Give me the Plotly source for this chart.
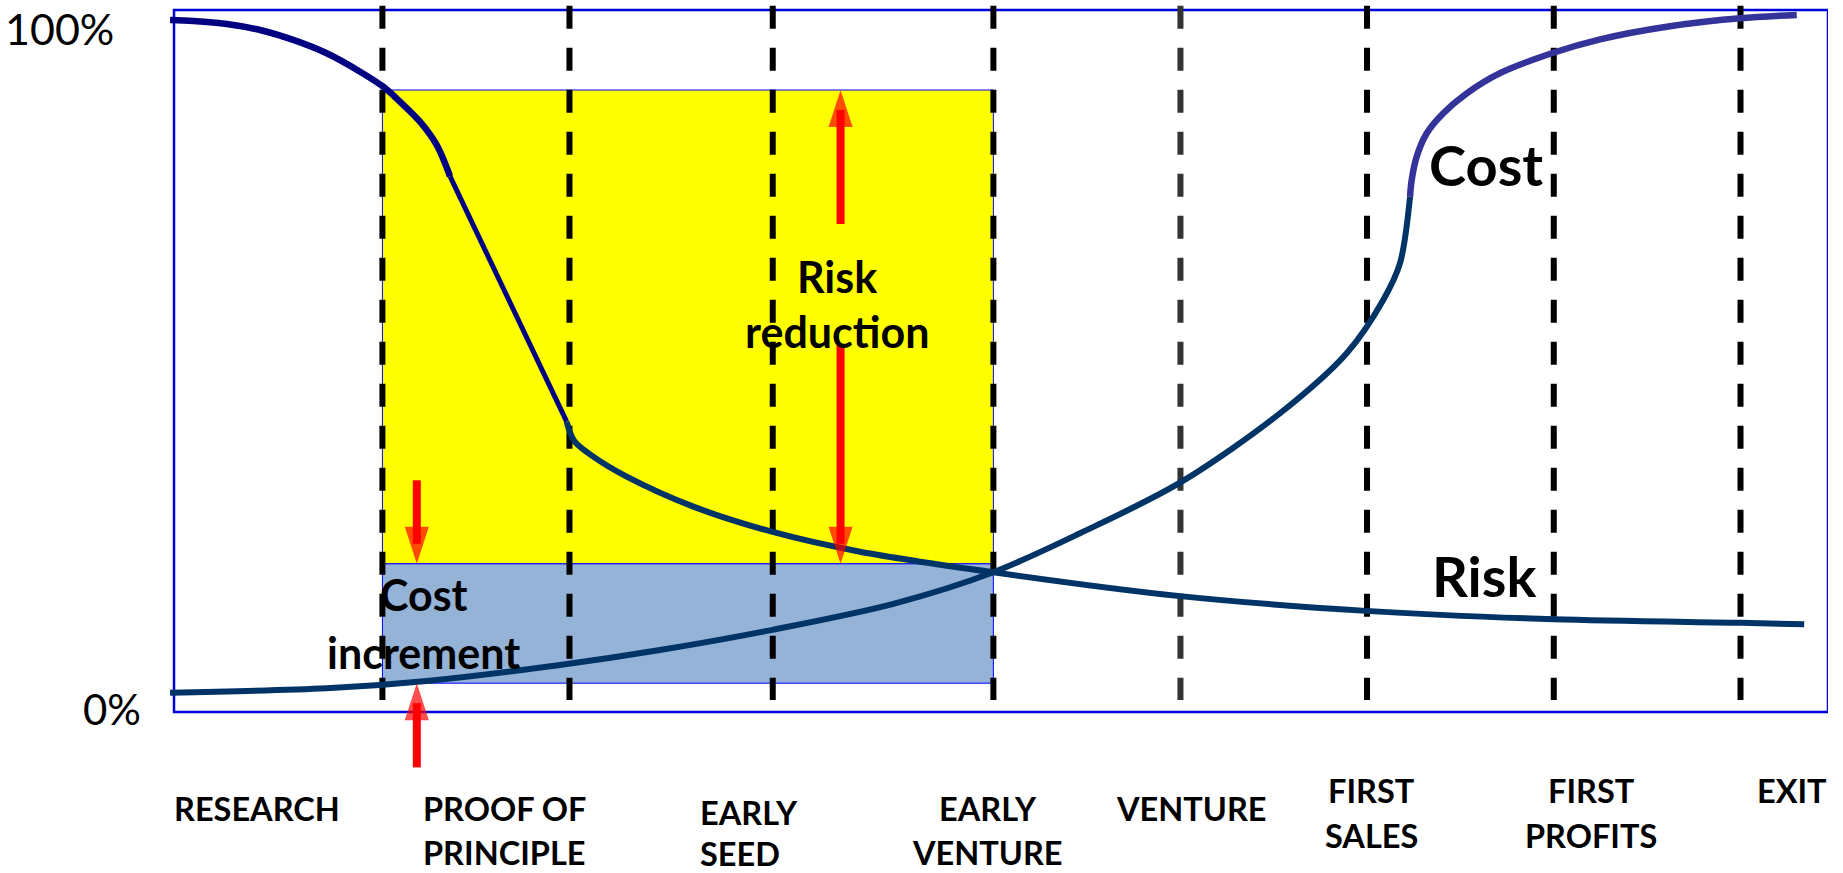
import plotly.graph_objects as go

# ---------------- data (x: % of venture timeline, y: % level) ----------------
stage_bounds = [12.60, 23.91, 36.20, 49.54, 60.85, 72.13, 83.42, 94.71]
stage_lines1 = ["RESEARCH", "PROOF OF", "EARLY", "EARLY", "VENTURE", "FIRST", "FIRST", "EXIT"]
stage_lines2 = ["", "PRINCIPLE", "SEED", "VENTURE", "", "SALES", "PROFITS", ""]

risk_head_x = [-0.24, 1.17, 3.19, 5.20, 7.21, 9.23, 11.25, 12.65, 13.66, 14.87, 15.88, 16.69]
risk_head_y = [98.58, 98.43, 98.01, 97.15, 95.73, 93.83, 91.21, 89.07, 86.94, 84.09, 80.77, 76.3]
risk_drop_x = [16.69, 23.74]
risk_drop_y = [76.3, 41.35]
risk_tail_x = [23.74, 24.2, 25.35, 27.37, 31.40, 36.14, 41.48, 49.53, 60.83, 72.06, 83.43,
               94.73, 98.56]
risk_tail_y = [41.35, 38.6, 36.37, 33.52, 29.25, 25.68, 22.83, 19.9, 16.5, 14.4, 13.2,
               12.7, 12.5]

cost_low_x = [-0.24, 9.23, 15.28, 23.34, 29.38, 36.17, 43.49, 49.53, 54.78, 60.82, 66.87,
              70.90, 73.11, 74.12, 74.73]
cost_low_y = [2.75, 3.37, 4.42, 6.70, 8.83, 11.7, 15.4, 19.9, 25.46, 32.66, 42.55,
              51.10, 58.69, 63.9, 73.4]
cost_high_x = [74.73, 74.83, 75.13, 75.74, 76.74, 78.16, 80.17, 83.39, 86.22, 90.25,
               94.68, 98.11]
cost_high_y = [73.4, 75.78, 79.10, 82.44, 85.29, 88.13, 91.0, 93.9, 95.82, 97.62,
               98.82, 99.29]

risk_band = [21.1, 88.6]   # yellow: risk reduction
cost_band = [4.1, 21.1]    # blue: cost increment

risk_arrow_tails = [69.5, 52.4]
cost_arrow_tails = [33.0, -7.9]

# ---------------- layout helpers (positions / styles) ----------------
FONT = "Lato, 'Open Sans', Arial, sans-serif"
band_x0, band_x1 = stage_bounds[0], stage_bounds[3]
risk_arrow_x = 40.3
cost_arrow_x = 14.68
label_x = [5.02, 20.01, 31.71, 49.21, 61.49, 72.43, 85.70, 97.82]
label_anchor = ["center", "center", "left", "center", "center", "center", "center", "center"]
label_y1 = [-13.75, -13.75, -14.25, -13.75, -13.75, -11.25, -11.25, -11.25]
label_gap = [6.35, 6.3, 5.85, 6.3, 6.35, 6.4, 6.4, 6.4]
dash_colors = ["#000000", "#000000", "#000000", "#000000", "#333333", "#000000", "#000000", "#000000"]

fig = go.Figure()

# bands
fig.add_trace(go.Scatter(
    x=[band_x0, band_x1, band_x1, band_x0, band_x0],
    y=[risk_band[0], risk_band[0], risk_band[1], risk_band[1], risk_band[0]],
    fill="toself", fillcolor="#FFFF00", mode="lines",
    line=dict(color="#0000FF", width=1), hoverinfo="skip", showlegend=False))
fig.add_trace(go.Scatter(
    x=[band_x0, band_x1, band_x1, band_x0, band_x0],
    y=[cost_band[0], cost_band[0], cost_band[1], cost_band[1], cost_band[0]],
    fill="toself", fillcolor="#95B3D7", mode="lines",
    line=dict(color="#0000FF", width=1), hoverinfo="skip", showlegend=False))

# dashed stage boundaries
for bx, col in zip(stage_bounds, dash_colors):
    fig.add_trace(go.Scatter(
        x=[bx, bx], y=[100.6, 1.7], mode="lines",
        line=dict(color=col, width=6, dash="23px,19px"),
        hoverinfo="skip", showlegend=False))

# risk curve
fig.add_trace(go.Scatter(x=risk_head_x, y=risk_head_y, mode="lines",
                         line=dict(color="#000080", width=6.5, shape="spline", smoothing=0.9),
                         showlegend=False))
fig.add_trace(go.Scatter(x=risk_drop_x, y=risk_drop_y, mode="lines",
                         line=dict(color="#000080", width=5),
                         showlegend=False))
fig.add_trace(go.Scatter(x=risk_tail_x, y=risk_tail_y, mode="lines",
                         line=dict(color="#003366", width=6, shape="spline", smoothing=0.9),
                         showlegend=False))

# cost curve
fig.add_trace(go.Scatter(x=cost_low_x, y=cost_low_y, mode="lines",
                         line=dict(color="#003366", width=6, shape="spline", smoothing=0.9),
                         showlegend=False))
fig.add_trace(go.Scatter(x=cost_high_x, y=cost_high_y, mode="lines",
                         line=dict(color="#333399", width=6.5, shape="spline", smoothing=0.9),
                         showlegend=False))

# red arrows
def arrow(x, tail, tip):
    fig.add_trace(go.Scatter(
        x=[x, x], y=[tail, tip], mode="lines+markers",
        line=dict(color="#FF0000", width=8, backoff=20),
        marker=dict(symbol=["circle", "arrow"], size=[0, 39], color="#FF0000",
                    angleref="previous", line=dict(width=0)),
        cliponaxis=False, hoverinfo="skip", showlegend=False))

arrow(risk_arrow_x, risk_arrow_tails[0], risk_band[1])
arrow(risk_arrow_x, risk_arrow_tails[1], risk_band[0])
arrow(cost_arrow_x, cost_arrow_tails[0], cost_band[1])
arrow(cost_arrow_x, cost_arrow_tails[1], cost_band[0])

ann = []
def txt(x, y, s, size, xanchor="center", bold=True, xref="x"):
    ann.append(dict(x=x, y=y, xref=xref, yref="y", text=("<b>%s</b>" % s) if bold else s,
                    showarrow=False, xanchor=xanchor, yanchor="middle",
                    font=dict(family=FONT, size=size, color="#000000")))

# stage labels
for i in range(len(stage_lines1)):
    txt(label_x[i], label_y1[i], stage_lines1[i], 32.5, label_anchor[i])
    if stage_lines2[i]:
        txt(label_x[i], label_y1[i] - label_gap[i], stage_lines2[i], 32.5, label_anchor[i])

# in-chart labels
txt(79.3, 78.0, "Cost", 56)
txt(79.2, 19.4, "Risk", 56)
txt(40.1, 62.0, "Risk", 43)
txt(40.1, 54.2, "reduction", 43)
txt(15.13, 16.7, "Cost", 43)
txt(15.08, 8.5, "increment", 43)

# percent labels
txt(-0.0290, 97.4, "100%", 43, "right", bold=False, xref="paper")
txt(-0.0124, 0.43, "0%", 42, "right", bold=False, xref="paper")

fig.update_layout(
    width=1843, height=873,
    margin=dict(l=164, r=15, t=0, b=0),
    paper_bgcolor="#FFFFFF", plot_bgcolor="#FFFFFF",
    xaxis=dict(range=[-0.605, 100], visible=False, fixedrange=True),
    yaxis=dict(range=[-22.94, 101.42], visible=False, fixedrange=True),
    shapes=[dict(type="rect", xref="x", yref="y", x0=0, x1=100, y0=0, y1=100,
                 line=dict(color="#0000DD", width=2.5), layer="below")],
    annotations=ann,
    showlegend=False,
)

fig.write_html("out.html")
